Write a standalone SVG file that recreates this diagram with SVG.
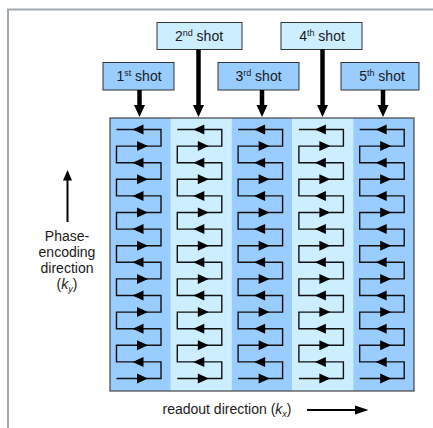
<svg xmlns="http://www.w3.org/2000/svg" xmlns:xlink="http://www.w3.org/1999/xlink" width="433" height="428" viewBox="0 0 433 428">
<style>
  text { font-family: "Liberation Sans", Arial, sans-serif; fill: #1a1a1a; }
  .lbl { font-size: 14px; text-anchor: middle; }
  .dark { fill: #99ccff; }
  .light { fill: #cceeff; }
  .box { stroke: #333; stroke-width: 1; }
  .zig { fill: none; stroke: #111; stroke-width: 1.4; }
  .head { fill: #000; }
  .shaft { stroke: #000; stroke-width: 4.5; }
  .thin { stroke: #000; stroke-width: 2; }
</style>
<defs>
  <path id="al" class="head" d="M0,0 L11,-5 L11,5 Z"/>
  <path id="ar" class="head" d="M0,-5 L11,0 L0,5 Z"/>
  <g id="col">
    <path class="zig" d="M6.5,378.5 H51 V361.9 H6.5 V345.3 H51 V328.7 H6.5 V312.1 H51 V295.5 H6.5 V278.9 H51 V262.3 H6.5 V245.7 H51 V229.1 H6.5 V212.5 H51 V195.9 H6.5 V179.3 H51 V162.7 H6.5 V146.1 H51 V129.5 H6.5"/>
    <use xlink:href="#al" x="22.5" y="129.5"/>
    <use xlink:href="#ar" x="27" y="146.1"/>
    <use xlink:href="#al" x="22.5" y="162.7"/>
    <use xlink:href="#ar" x="27" y="179.3"/>
    <use xlink:href="#al" x="22.5" y="195.9"/>
    <use xlink:href="#ar" x="27" y="212.5"/>
    <use xlink:href="#al" x="22.5" y="229.1"/>
    <use xlink:href="#ar" x="27" y="245.7"/>
    <use xlink:href="#al" x="22.5" y="262.3"/>
    <use xlink:href="#ar" x="27" y="278.9"/>
    <use xlink:href="#al" x="22.5" y="295.5"/>
    <use xlink:href="#ar" x="27" y="312.1"/>
    <use xlink:href="#al" x="22.5" y="328.7"/>
    <use xlink:href="#ar" x="27" y="345.3"/>
    <use xlink:href="#al" x="22.5" y="361.9"/>
    <use xlink:href="#ar" x="27" y="378.5"/>
  </g>
</defs>

<rect width="433" height="428" fill="#ffffff"/>
<!-- frame -->
<path d="M8,428 V9.5 H433" fill="none" stroke="#a0a8b0" stroke-width="2"/>

<!-- k-space grid -->
<g id="kspace">
  <rect class="dark" x="110" y="118" width="60.8" height="273"/>
  <rect class="light" x="170.8" y="118" width="60.8" height="273"/>
  <rect class="dark" x="231.6" y="118" width="60.8" height="273"/>
  <rect class="light" x="292.4" y="118" width="60.8" height="273"/>
  <rect class="dark" x="353.2" y="118" width="60.8" height="273"/>
  <rect x="110" y="118" width="304" height="273" fill="none" stroke="#444" stroke-width="1.2"/>
  <use xlink:href="#col" x="110"/>
  <use xlink:href="#col" x="170.8"/>
  <use xlink:href="#col" x="231.6"/>
  <use xlink:href="#col" x="292.4"/>
  <use xlink:href="#col" x="353.2"/>
</g>

<!-- shot nodes -->
<g id="shot1">
  <rect class="box dark" x="103" y="62.5" width="71" height="27.5"/>
  <text class="lbl" x="139" y="80.5">1<tspan font-size="9" dy="-5">st</tspan><tspan dy="5"> shot</tspan></text>
</g>
<g id="shot2">
  <rect class="box light" x="157" y="22.5" width="85" height="27"/>
  <text class="lbl" x="199" y="40.5">2<tspan font-size="9" dy="-5">nd</tspan><tspan dy="5"> shot</tspan></text>
</g>
<g id="shot3">
  <rect class="box dark" x="218" y="62.5" width="81" height="27.5"/>
  <text class="lbl" x="258.5" y="80.5">3<tspan font-size="9" dy="-5">rd</tspan><tspan dy="5"> shot</tspan></text>
</g>
<g id="shot4">
  <rect class="box light" x="281" y="22.5" width="81" height="27"/>
  <text class="lbl" x="322" y="40.5">4<tspan font-size="9" dy="-5">th</tspan><tspan dy="5"> shot</tspan></text>
</g>
<g id="shot5">
  <rect class="box dark" x="341" y="62.5" width="78" height="27.5"/>
  <text class="lbl" x="382" y="80.5">5<tspan font-size="9" dy="-5">th</tspan><tspan dy="5"> shot</tspan></text>
</g>

<!-- connectors -->
<g id="connectors">
  <line class="shaft" x1="139.5" y1="90" x2="139.5" y2="106"/>
  <path class="head" d="M134,105 H145 L139.5,117 Z"/>
  <line class="shaft" x1="198.5" y1="49.5" x2="198.5" y2="106"/>
  <path class="head" d="M193,105 H204 L198.5,117 Z"/>
  <line class="shaft" x1="262" y1="90" x2="262" y2="106"/>
  <path class="head" d="M256.5,105 H267.5 L262,117 Z"/>
  <line class="shaft" x1="322.5" y1="49.5" x2="322.5" y2="106"/>
  <path class="head" d="M317,105 H328 L322.5,117 Z"/>
  <line class="shaft" x1="383" y1="90" x2="383" y2="106"/>
  <path class="head" d="M377.5,105 H388.5 L383,117 Z"/>
</g>

<!-- axis labels -->
<g id="phase-axis">
  <line class="thin" x1="67.5" y1="222" x2="67.5" y2="178"/>
  <path class="head" d="M67.5,170 L72,180.5 H63 Z"/>
  <text class="lbl" x="67" y="241">Phase-</text>
  <text class="lbl" x="67" y="257">encoding</text>
  <text class="lbl" x="67" y="273">direction</text>
  <text class="lbl" x="67" y="289">(<tspan font-style="italic">k</tspan><tspan font-size="9" dy="3" font-style="italic">y</tspan><tspan dy="-3">)</tspan></text>
</g>
<g id="readout-axis">
  <text x="162.5" y="414" font-size="14">readout direction (<tspan font-style="italic">k</tspan><tspan font-size="9" dy="3" font-style="italic">x</tspan><tspan dy="-3">)</tspan></text>
  <line class="thin" x1="307" y1="410" x2="357" y2="410"/>
  <path class="head" d="M368.5,410 L355,405.5 V414.5 Z"/>
</g>
</svg>
